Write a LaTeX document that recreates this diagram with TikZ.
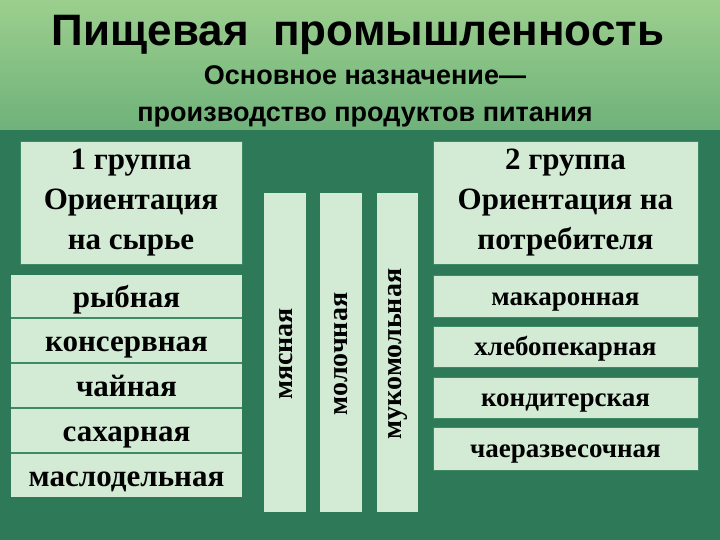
\documentclass[tikz,border=0pt]{standalone}
\usepackage{fontspec}
\setmainfont{Liberation Serif}
\setsansfont{Liberation Sans}
\begin{document}
\begin{tikzpicture}[x=1pt,y=-1pt,
  box/.style={fill=boxc,draw=boxb,line width=1pt},
  lt/.style={anchor=base,font=\bfseries\fontsize{31}{31}\selectfont},
  vt/.style={rotate=90,font=\bfseries\fontsize{28}{28}\selectfont},
  rt/.style={anchor=base,font=\bfseries\fontsize{27}{27}\selectfont},
  big/.style={box,minimum width=222,minimum height=123,align=center,font=\bfseries\fontsize{31}{40}\selectfont}]
\definecolor{boxc}{HTML}{D3EBD5}
\definecolor{boxb}{HTML}{3E8A66}
\definecolor{bgd}{HTML}{2E7A58}
\definecolor{bgt}{HTML}{9CCF8E}
\definecolor{bgt2}{HTML}{6FB27A}
\useasboundingbox (0,0) rectangle (720,540);
\fill[bgd] (0,0) rectangle (720,540);
\shade[top color=bgt,bottom color=bgt2] (0,0) rectangle (720,130);
\node[font=\sffamily\bfseries\fontsize{44}{44}\selectfont] (title) at (358,35) {Пищевая\ \ промышленность};
\node[font=\sffamily\bfseries\fontsize{27}{37}\selectfont,align=center] (sub) at (365,96) {Основное назначение—\\производство продуктов питания};
\node[big] (g1) at (131,203) {1 группа\\Ориентация\\на сырье};
\node[big,minimum width=265] (g2) at (565.5,203) {2 группа\\Ориентация на\\потребителя};
\fill[boxc] (11,275) rectangle (242,497);
\foreach \y in {318,363,408,453} \draw[boxb,line width=2pt] (11,\y) -- (242,\y);
\node[lt] (l1) at (126.5,307) {рыбная};
\node[lt] (l2) at (126.5,351) {консервная};
\node[lt] (l3) at (126.5,396) {чайная};
\node[lt] (l4) at (126.5,441) {сахарная};
\node[lt] (l5) at (126.5,486) {маслодельная};
\fill[boxc] (264,193) rectangle (306,512);
\fill[boxc] (320,193) rectangle (362,512);
\fill[boxc] (377,193) rectangle (418,512);
\node[vt] (s1) at (286,354) {мясная};
\node[vt] (s2) at (341,354) {молочная};
\node[vt] (s3) at (398,354) {мукомольная};
\draw[box] (433,275) rectangle (698,317);
\draw[box] (433,326) rectangle (698,367);
\draw[box] (433,377) rectangle (698,418);
\draw[box] (433,427) rectangle (698,470);
\node[rt] (r1) at (565.5,305) {макаронная};
\node[rt] (r2) at (565.5,355.5) {хлебопекарная};
\node[rt] (r3) at (565.5,406.5) {кондитерская};
\node[rt] (r4) at (565.5,457.5) {чаеразвесочная};
\end{tikzpicture}
\end{document}
